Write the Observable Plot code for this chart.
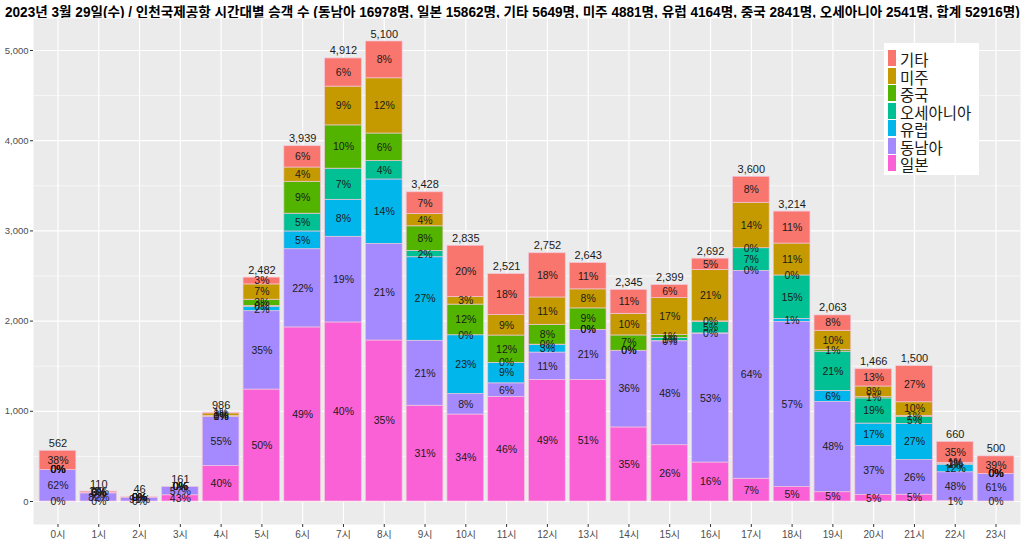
<!DOCTYPE html>
<html>
<head>
<meta charset="utf-8">
<script src="https://cdn.jsdelivr.net/npm/d3@7"></script>
<script src="https://cdn.jsdelivr.net/npm/@observablehq/plot@0.6"></script>
<style>
  html, body { margin: 0; padding: 0; background: #fff; }
  body { width: 1024px; height: 548px; position: relative; overflow: hidden;
         font-family: "Liberation Sans", Arial, "Noto Sans CJK KR", sans-serif; }
  #title { position: absolute; left: 5px; top: 1px; height: 18px; white-space: nowrap;
           font-weight: bold; font-size: 14px; color: #000; transform-origin: 0 0;
           font-family: "Liberation Sans", Arial, "Noto Sans CJK KR", sans-serif; }
  #chart { position: absolute; left: 0; top: 18px; }
  #legend { position: absolute; left: 884px; top: 43px; width: 95px; height: 132px; background: #fff; }
  .item { position: absolute; left: 4px; height: 17px; }
  .sw { position: absolute; left: 0; top: 0; width: 8px; height: 16px; }
  .lb { position: absolute; left: 12px; top: -2px; font-size: 15.5px; color: #1a1a1a; white-space: nowrap;
        font-family: "Noto Sans CJK KR", sans-serif; }
</style>
</head>
<body>
<div id="title">2023년 3월 29일(수) / 인천국제공항 시간대별 승객 수 (동남아 16978명, 일본 15862명, 기타 5649명, 미주 4881명, 유럽 4164명, 중국 2841명, 오세아니아 2541명, 합계 52916명)</div>
<div id="chart"></div>
<div id="legend"></div>
<script>
const hours = ["0시","1시","2시","3시","4시","5시","6시","7시","8시","9시","10시","11시","12시","13시","14시","15시","16시","17시","18시","19시","20시","21시","22시","23시"];
const categories = ["일본","동남아","유럽","오세아니아","중국","미주","기타"];
const colors = ["#FB61D7","#A58AFF","#00B6EB","#00C094","#53B400","#C49A00","#F8766D"];

const japan      = [0,0,0,69,394,1241,1930,1985,1785,1062,964,1159,1348,1348,821,624,432,252,161,103,73,75,7,0];
const seAsia     = [348,90,42,92,542,869,867,950,1071,720,227,151,303,555,850,1152,1427,2304,1831,1000,542,385,317,305];
const europe     = [0,5,0,0,3,45,197,410,714,926,652,227,83,0,0,3,5,0,32,124,249,400,79,0];
const oceania    = [0,0,0,0,0,12,197,345,204,69,0,0,5,0,0,35,125,252,482,434,279,75,15,0];
const china      = [0,0,0,0,8,70,354,480,306,274,340,303,220,238,170,33,8,0,0,21,15,15,5,0];
const americas   = [0,3,0,0,30,170,158,430,612,137,85,227,303,211,240,408,570,504,354,211,117,150,6,0];
const others     = [214,12,4,0,9,75,236,312,408,240,567,454,490,291,264,144,125,288,354,170,191,400,231,195];

const yTicks = [0,1000,2000,3000,4000,5000];
const yMinor = [500,1500,2500,3500,4500];

const series = [japan, seAsia, europe, oceania, china, americas, others];
const totals = hours.map((h, i) => d3.sum(series, s => s[i]));
const data = [];
hours.forEach((h, i) => {
  categories.forEach((c, k) => {
    const v = series[k][i];
    data.push({hour: h, cat: c, count: v, pct: Math.round(v / totals[i] * 100)});
  });
});
const totalData = hours.map((h, i) => ({hour: h, total: totals[i]}));
const fmt = d3.format(",");

const chart = Plot.plot({
  width: 1024,
  height: 530,
  marginTop: 0,
  marginBottom: 24,
  marginLeft: 33,
  marginRight: 4,
  style: {fontFamily: "'Liberation Sans', Arial, 'Noto Sans CJK KR', sans-serif", background: "white"},
  x: {domain: hours, paddingInner: 0.1, paddingOuter: 0.15, round: false, label: null},
  y: {domain: [-255, 5355], label: null},
  color: {domain: categories, range: colors},
  marks: [
    Plot.frame({fill: "#EBEBEB", stroke: null}),
    Plot.ruleY(yMinor, {stroke: "white", strokeWidth: 0.6}),
    Plot.ruleY(yTicks, {stroke: "white", strokeWidth: 1.2}),
    Plot.ruleX(hours, {x: d => d, stroke: "white", strokeWidth: 1.2}),
    Plot.barY(data, Plot.stackY({x: "hour", y: "count", fill: "cat", z: "cat", order: categories,
      stroke: "#f3c6dc", strokeWidth: 0.7})),
    Plot.text(data, Plot.stackY({x: "hour", y: "count", z: "cat", order: categories,
      text: d => d.pct + "%", fontSize: 10.5, fill: "#1a1a1a"})),
    Plot.text(totalData, {x: "hour", y: "total", text: d => fmt(d.total),
      lineAnchor: "bottom", dy: -4, fontSize: 11, fill: "#1a1a1a"}),
    Plot.axisY(yTicks, {tickFormat: d => fmt(d), tickSize: 3, tickPadding: 2, fontSize: 9.5, color: "#4D4D4D", stroke: "#333", label: null}),
    Plot.axisX({tickSize: 3, tickPadding: 3, fontSize: 10, color: "#4D4D4D", stroke: "#333", label: null})
  ]
});
document.getElementById("chart").appendChild(chart);

// legend (top to bottom: reverse of stack order)
const legend = document.getElementById("legend");
categories.slice().reverse().forEach((c, i) => {
  const item = document.createElement("div");
  item.className = "item";
  item.style.top = (7 + i * 17.5) + "px";
  const sw = document.createElement("div");
  sw.className = "sw";
  sw.style.background = colors[categories.indexOf(c)];
  const lb = document.createElement("div");
  lb.className = "lb";
  lb.textContent = c;
  item.appendChild(sw); item.appendChild(lb);
  legend.appendChild(item);
});

// fit title width
const t = document.getElementById("title");
const w = t.scrollWidth;
t.style.transform = "scaleX(" + (1015 / w) + ")";
</script>
</body>
</html>
